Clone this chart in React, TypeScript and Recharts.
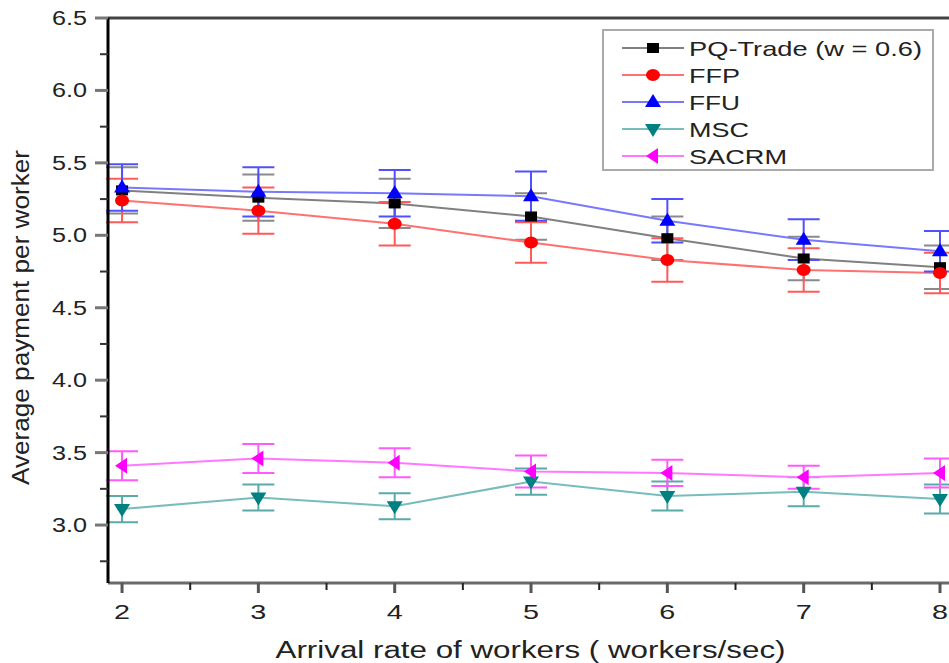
import { LineChart, Line, XAxis, YAxis, ErrorBar, Legend, ReferenceLine, Label } from 'recharts'

// arrival rate (workers/sec)
const xValues = [2, 3, 4, 5, 6, 7, 8]

const pqTrade = [5.31, 5.26, 5.22, 5.13, 4.98, 4.84, 4.78]
const pqTradeErr = [0.16, 0.16, 0.17, 0.16, 0.15, 0.15, 0.15]
const ffp = [5.24, 5.17, 5.08, 4.95, 4.83, 4.76, 4.74]
const ffpErr = [0.15, 0.16, 0.15, 0.14, 0.15, 0.15, 0.14]
const ffu = [5.33, 5.3, 5.29, 5.27, 5.1, 4.97, 4.89]
const ffuErr = [0.16, 0.17, 0.16, 0.17, 0.15, 0.14, 0.14]
const msc = [3.11, 3.19, 3.13, 3.3, 3.2, 3.23, 3.18]
const mscErr = [0.09, 0.09, 0.09, 0.09, 0.1, 0.1, 0.1]
const sacrm = [3.41, 3.46, 3.43, 3.37, 3.36, 3.33, 3.36]
const sacrmErr = [0.1, 0.1, 0.1, 0.11, 0.09, 0.08, 0.1]

const xTicks = [2, 2.5, 3, 3.5, 4, 4.5, 5, 5.5, 6, 6.5, 7, 7.5, 8]
const yTicks = [2.75, 3, 3.25, 3.5, 3.75, 4, 4.25, 4.5, 4.75, 5, 5.25, 5.5, 5.75, 6, 6.25, 6.5]

const FONT = '"Liberation Sans", Arial, sans-serif'
const TEXT = '#222'

const chartData = xValues.map((x, i) => ({
  x,
  pq: pqTrade[i],
  pqErr: pqTradeErr[i],
  ffp: ffp[i],
  ffpErr: ffpErr[i],
  ffu: ffu[i],
  ffuErr: ffuErr[i],
  msc: msc[i],
  mscErr: mscErr[i],
  sacrm: sacrm[i],
  sacrmErr: sacrmErr[i],
}))

type Shape = 'square' | 'circle' | 'up' | 'down' | 'left'

function Marker({ cx, cy, shape, fill }: { cx: number; cy: number; shape: Shape; fill: string }) {
  if (cx == null || cy == null) return null
  switch (shape) {
    case 'square':
      return <rect x={cx - 6} y={cy - 5} width={12} height={10} fill={fill} />
    case 'circle':
      return <ellipse cx={cx} cy={cy} rx={7} ry={6} fill={fill} />
    case 'up':
      return <polygon points={`${cx - 8},${cy + 5} ${cx + 8},${cy + 5} ${cx},${cy - 8}`} fill={fill} />
    case 'down':
      return <polygon points={`${cx - 8},${cy - 5} ${cx + 8},${cy - 5} ${cx},${cy + 8}`} fill={fill} />
    case 'left':
      return <polygon points={`${cx + 5},${cy - 8} ${cx + 5},${cy + 8} ${cx - 7},${cy}`} fill={fill} />
  }
}

const SERIES: { key: string; name: string; line: string; mark: string; err: string; shape: Shape; textW: number }[] = [
  { key: 'pq', name: 'PQ-Trade (w = 0.6)', line: '#808080', mark: '#000000', err: '#8a8a8a', shape: 'square', textW: 233 },
  { key: 'ffp', name: 'FFP', line: '#ff7070', mark: '#ff0000', err: '#ff5a5a', shape: 'circle', textW: 51 },
  { key: 'ffu', name: 'FFU', line: '#7878ff', mark: '#0000ff', err: '#5050ff', shape: 'up', textW: 51 },
  { key: 'msc', name: 'MSC', line: '#78bcbc', mark: '#008080', err: '#5aaaaa', shape: 'down', textW: 60 },
  { key: 'sacrm', name: 'SACRM', line: '#ff78ff', mark: '#ff00ff', err: '#ff5aff', shape: 'left', textW: 98 },
]

function YTick({ x, y, payload }: any) {
  const v = payload.value as number
  const major = Math.abs(v * 2 - Math.round(v * 2)) < 1e-6
  return (
    <g>
      {major ? (
        <line x1={x - 13} x2={x} y1={y} y2={y} stroke="#777" strokeWidth={3} />
      ) : (
        <line x1={x - 8} x2={x} y1={y} y2={y} stroke="#333" strokeWidth={2} />
      )}
      {major && (
        <text x={x - 21} y={y} dy={7} textAnchor="end" fontFamily={FONT} fontSize={20} fill={TEXT}
          textLength={35} lengthAdjust="spacingAndGlyphs">
          {v.toFixed(1)}
        </text>
      )}
    </g>
  )
}

function XTick({ x, y, payload }: any) {
  const v = payload.value as number
  const major = Number.isInteger(v)
  return (
    <g>
      {major ? (
        <line x1={x} x2={x} y1={y} y2={y + 10} stroke="#555" strokeWidth={3} />
      ) : (
        <line x1={x} x2={x} y1={y} y2={y + 7} stroke="#222" strokeWidth={2} />
      )}
      {major && (
        <text x={x} y={y + 36} textAnchor="middle" fontFamily={FONT} fontSize={21} fill={TEXT}
          textLength={16} lengthAdjust="spacingAndGlyphs">
          {v}
        </text>
      )}
    </g>
  )
}

function LegendBox() {
  return (
    <svg width={332} height={142} style={{ display: 'block' }}>
      <rect x={1} y={1} width={330} height={140} fill="#fff" stroke="#aaa" strokeWidth={2} />
      {SERIES.map((s, i) => {
        const cy = 19 + i * 27
        return (
          <g key={s.key}>
            <line x1={20} x2={82} y1={cy} y2={cy} stroke={s.line} strokeWidth={2} />
            <Marker cx={51} cy={cy} shape={s.shape} fill={s.mark} />
            <text x={87} y={cy} dy={8} fontFamily={FONT} fontSize={21} fill={TEXT}
              textLength={s.textW} lengthAdjust="spacingAndGlyphs">
              {s.name}
            </text>
          </g>
        )
      })}
    </svg>
  )
}

export default function App() {
  return (
    <div style={{ position: 'absolute', left: 0, top: 0, width: 949, height: 663, background: '#fff' }}>
      <LineChart width={949} height={663} data={chartData} margin={{ top: 18, right: 0, bottom: 0, left: 0 }}>
        <XAxis
          dataKey="x"
          type="number"
          domain={[1.897, 8.066]}
          allowDataOverflow
          ticks={xTicks}
          interval={0}
          height={80}
          tickSize={0}
          tickMargin={0}
          tickLine={false}
          tick={<XTick />}
          axisLine={{ stroke: '#6a6a6a', strokeWidth: 3 }}
        >
          <Label
            content={({ viewBox }: any) => (
              <text x={viewBox.x + viewBox.width / 2 + 2} y={658} textAnchor="middle" fontFamily={FONT}
                fontSize={23} fill={TEXT} textLength={510} lengthAdjust="spacingAndGlyphs">
                Arrival rate of workers ( workers/sec)
              </text>
            )}
          />
        </XAxis>
        <YAxis
          type="number"
          domain={[2.6, 6.5]}
          allowDataOverflow
          ticks={yTicks}
          interval={0}
          width={108}
          tickSize={0}
          tickMargin={0}
          tickLine={false}
          tick={<YTick />}
          axisLine={{ stroke: '#000', strokeWidth: 3 }}
        >
          <Label
            content={({ viewBox }: any) => {
              const cy = viewBox.y + viewBox.height / 2 + 17
              return (
                <text x={0} y={0} transform={`translate(29, ${cy}) rotate(-90)`} textAnchor="middle"
                  fontFamily={FONT} fontSize={23} fill={TEXT} textLength={335} lengthAdjust="spacingAndGlyphs">
                  Average payment per worker
                </text>
              )
            }}
          />
        </YAxis>
        <ReferenceLine y={6.5} stroke="#444" strokeWidth={3} ifOverflow="visible" />
        {SERIES.map((s) => (
          <Line
            key={s.key}
            dataKey={s.key}
            name={s.name}
            type="linear"
            stroke={s.line}
            strokeWidth={2}
            isAnimationActive={false}
            dot={(p: any) => <Marker key={`${s.key}-${p.index}`} cx={p.cx} cy={p.cy} shape={s.shape} fill={s.mark} />}
            activeDot={false}
          >
            <ErrorBar dataKey={`${s.key}Err`} direction="y" width={16} stroke={s.err} strokeWidth={2} isAnimationActive={false} />
          </Line>
        ))}
        <Legend
          layout="vertical"
          align="center"
          verticalAlign="middle"
          wrapperStyle={{ position: 'absolute', left: 602, top: 29, width: 332, height: 142 }}
          content={() => <LegendBox />}
        />
      </LineChart>
    </div>
  )
}
